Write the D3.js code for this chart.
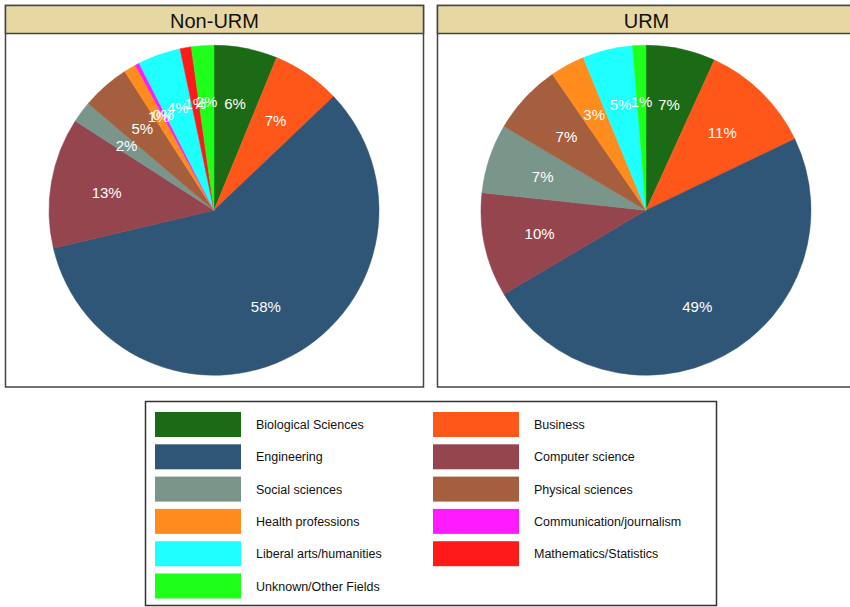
<!DOCTYPE html>
<html>
<head>
<meta charset="utf-8">
<script src="https://cdn.jsdelivr.net/npm/d3@7"></script>
<style>
  body { margin: 0; background: #fff; }
  text { font-family: "Liberation Sans", Arial, sans-serif; }
</style>
</head>
<body>
<div id="graph"></div>
<script>
//Fields, in the order of the slices (clockwise from 12 o'clock)
var categories = ["Biological Sciences", "Business", "Engineering", "Computer science",
  "Social sciences", "Physical sciences", "Health professions", "Communication/journalism",
  "Liberal arts/humanities", "Mathematics/Statistics", "Unknown/Other Fields"];

//Shares in percent
var nonUrmValues = [6.2, 6.7, 58.4, 12.8, 2.1, 4.7, 1.2, 0.4, 4.2, 1.1, 2.2];
var urmValues = [6.8, 11.1, 48.6, 10.2, 6.8, 6.9, 3.4, 0, 4.9, 0, 1.3];

var panelTitles = ["Non-URM", "URM"];

var colors = ["#1b6a15", "#ff5719", "#2f5577", "#95454e", "#7a958a", "#a55f3f",
  "#ff8c1c", "#ff1aff", "#1effff", "#ff1a1a", "#1eff1a"];

var width = 850, height = 607;

var svg = d3.select("#graph").append("svg")
  .attr("width", width).attr("height", height);

var color = d3.scaleOrdinal().domain(categories).range(colors);

var pie = d3.pie().sort(null).value(function(d) { return d.value; });
var radius = 165;
var arc = d3.arc().innerRadius(0).outerRadius(radius);
var labelArc = d3.arc().innerRadius(radius * 0.66).outerRadius(radius * 0.66);

//Panels: frame, header band, pie
var panelX = d3.scaleOrdinal().domain(panelTitles).range([5, 437]);
var panelW = 418, panelTop = 5.5, headerH = 28, panelBottom = 387;

[nonUrmValues, urmValues].forEach(function(values, p) {
  var title = panelTitles[p];
  var x0 = panelX(title);
  var g = svg.append("g");

  g.append("rect")
    .attr("x", x0 + 0.5).attr("y", panelTop)
    .attr("width", panelW).attr("height", panelBottom - panelTop)
    .attr("fill", "#fff").attr("stroke", "#444").attr("stroke-width", 1.5);

  g.append("rect")
    .attr("x", x0 + 0.5).attr("y", panelTop)
    .attr("width", panelW).attr("height", headerH)
    .attr("fill", "#e7d8a3").attr("stroke", "#444").attr("stroke-width", 1.5);

  g.append("text")
    .attr("x", x0 + 0.5 + panelW / 2).attr("y", panelTop + headerH / 2 + 1)
    .attr("text-anchor", "middle").attr("dominant-baseline", "central")
    .attr("font-size", 20).attr("fill", "#111")
    .text(title);

  var cx = x0 + 0.5 + panelW / 2 - 0.5;
  var cy = (panelTop + headerH + panelBottom) / 2;

  var data = categories.map(function(c, i) { return {name: c, value: values[i]}; });
  var arcs = pie(data);

  var pieG = g.append("g").attr("transform", "translate(" + cx + "," + cy + ")");

  pieG.selectAll("path")
    .data(arcs.filter(function(d) { return d.data.value > 0; }))
    .enter().append("path")
    .attr("d", arc)
    .attr("fill", function(d) { return color(d.data.name); })
    .attr("stroke", function(d) { return color(d.data.name); })
    .attr("stroke-width", 0.5);

  pieG.selectAll("text")
    .data(arcs.filter(function(d) { return d.data.value > 0; }))
    .enter().append("text")
    .attr("transform", function(d) { return "translate(" + labelArc.centroid(d) + ")"; })
    .attr("text-anchor", "middle").attr("dy", "0.38em")
    .attr("font-size", 15).attr("fill", "#fff")
    .text(function(d) { return Math.round(d.data.value) + "%"; });
});

//Legend, two columns filled row by row
var legend = svg.append("g");
legend.append("rect")
  .attr("x", 145.5).attr("y", 401.5).attr("width", 571).attr("height", 204)
  .attr("fill", "#fff").attr("stroke", "#333").attr("stroke-width", 1.5);

var colX = d3.scaleOrdinal().domain([0, 1]).range([155, 433]);
var rowY = d3.scaleLinear().domain([0, 5]).range([412, 573.5]);

var item = legend.selectAll(".item")
  .data(categories)
  .enter().append("g")
  .attr("class", "item")
  .attr("transform", function(d, i) {
    return "translate(" + colX(i % 2) + "," + rowY(Math.floor(i / 2)) + ")";
  });

item.append("rect")
  .attr("width", 86).attr("height", 25)
  .attr("fill", function(d) { return color(d); });

item.append("text")
  .attr("x", 101).attr("y", 13)
  .attr("dominant-baseline", "central")
  .attr("font-size", 12.5).attr("fill", "#111")
  .text(function(d) { return d; });
</script>
</body>
</html>
